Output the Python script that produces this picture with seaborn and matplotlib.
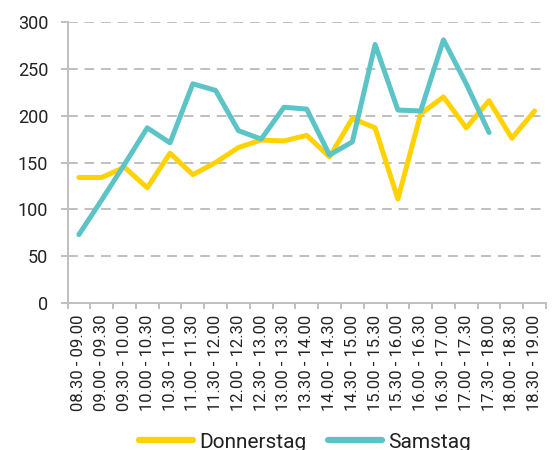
import numpy as np
import pandas as pd
import matplotlib
matplotlib.use("Agg")
import matplotlib.pyplot as plt
from matplotlib.ticker import FixedLocator
import seaborn as sns

# Half-hour time slots
slots = [
    "08.30 - 09.00", "09.00 - 09.30", "09.30 - 10.00", "10.00 - 10.30",
    "10.30 - 11.00", "11.00 - 11.30", "11.30 - 12.00", "12.00 - 12.30",
    "12.30 - 13.00", "13.00 - 13.30", "13.30 - 14.00", "14.00 - 14.30",
    "14.30 - 15.00", "15.00 - 15.30", "15.30 - 16.00", "16.00 - 16.30",
    "16.30 - 17.00", "17.00 - 17.30", "17.30 - 18.00", "18.00 - 18.30",
    "18.30 - 19.00",
]

# Counts per slot
donnerstag = [134, 134, 145, 123, 160, 137, 150, 166, 174, 173, 179,
              156, 197, 187, 111, 202, 220, 187, 216, 176, 205]
samstag = [73, 110, 148, 187, 171, 234, 227, 184, 175, 209, 207,
           158, 172, 276, 206, 205, 281, 234, 182]

series_names = ["Donnerstag", "Samstag"]
series_colors = ["#FFD200", "#5CC4C7"]

df = pd.concat([
    pd.DataFrame({"Zeit": slots[:len(donnerstag)], "Anzahl": donnerstag,
                  "Tag": series_names[0]}),
    pd.DataFrame({"Zeit": slots[:len(samstag)], "Anzahl": samstag,
                  "Tag": series_names[1]}),
], ignore_index=True)

sns.set_style("white")
plt.rcParams["font.family"] = ["Roboto", "DejaVu Sans"]

fig = plt.figure(figsize=(5.57, 4.5), dpi=100)
ax = fig.add_axes([67.5 / 557, 1 - 303 / 450, (546 - 67.5) / 557, (303 - 22) / 450])

grid_color = "#BFBFBF"
for y in range(50, 301, 50):
    ax.axhline(y, color=grid_color, lw=1.4, ls=(0, (5, 3.5)), zorder=0)

sns.lineplot(data=df, x="Zeit", y="Anzahl", hue="Tag", hue_order=series_names,
             palette=series_colors, linewidth=3.6, sort=False, ax=ax,
             legend=False, zorder=3)

n = len(slots)
ax.set_xlim(-0.5, n - 0.5)
ax.set_ylim(0, 300)
ax.set_xlabel("")
ax.set_ylabel("")

ax.set_xticks(range(n))
ax.set_xticklabels(slots, rotation=90, fontsize=12, color="#222222")
ax.xaxis.set_minor_locator(FixedLocator(np.arange(-0.5, n, 1.0)))
ax.tick_params(axis="x", which="major", length=0, pad=8.5)
ax.tick_params(axis="x", which="minor", length=4, width=1.4,
               color=grid_color, direction="out")
ax.xaxis.set_tick_params(which="minor", bottom=True)

ax.set_yticks(range(0, 301, 50))
ax.tick_params(axis="y", length=5, width=1.4, color=grid_color, pad=9,
               labelsize=13, labelcolor="#222222", direction="out", left=True)

for side in ["top", "right"]:
    ax.spines[side].set_visible(False)
for side in ["left", "bottom"]:
    ax.spines[side].set_color(grid_color)
    ax.spines[side].set_linewidth(1.4)

handles = [plt.Line2D([], [], color=c, lw=4.5, solid_capstyle="round")
           for c in series_colors]
fig.legend(handles, series_names, loc="center", ncol=2,
           bbox_to_anchor=(305 / 557, 1 - 442 / 450), frameon=False,
           fontsize=15, handlelength=2.6, handletextpad=0.3,
           columnspacing=1.0, labelcolor="#222222")

fig.savefig("out.png", dpi=100)
